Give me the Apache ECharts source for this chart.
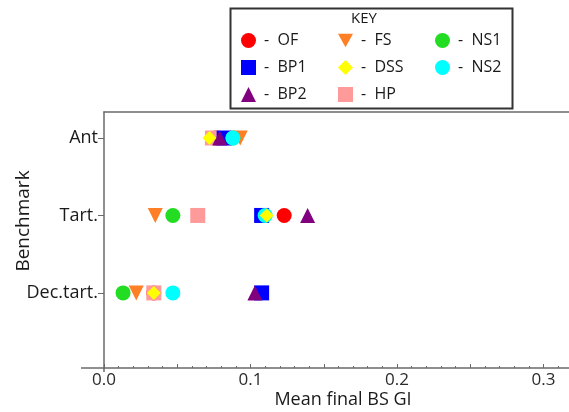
<!DOCTYPE html>
<html>
<head>
<meta charset="utf-8">
<script src="https://cdn.jsdelivr.net/npm/echarts@6/dist/echarts.min.js"></script>
<style>
  html, body { margin: 0; padding: 0; background: #fff; }
  #chart { width: 569px; height: 412px; }
</style>
</head>
<body>
<div id="chart"></div>
<script>
// Benchmarks, listed bottom-to-top (y = 1, 2, 3)
const benchmarks = ['Dec.tart.', 'Tart.', 'Ant'];
const xTickLabels = [0, 0.1, 0.2, 0.3];

// Mean final BS GI per method, in benchmark order [Dec.tart., Tart., Ant]
const OF  = [0.034, 0.123, 0.076];
const HP  = [0.034, 0.064, 0.074];
const BP1 = [0.1076, 0.1076, 0.082];
const BP2 = [0.103, 0.139, 0.079];
const FS  = [0.022, 0.035, 0.093];
const NS1 = [0.013, 0.047, 0.088];
const NS2 = [0.047, 0.110, 0.088];
const DSS = [0.034, 0.111, 0.072];

// Legend reading order (column-major)
const keyOrder = ['OF', 'BP1', 'BP2', 'FS', 'DSS', 'HP', 'NS1', 'NS2'];

const FONT = '"Open Sans", sans-serif';
const GRID = { left: 104, right: 0, top: 112, bottom: 44 };
const W = 569, H = 412;

const INV_TRI = 'path://M0,0 L10,0 L5,9 Z';

const methods = [
  { name: 'OF',  values: OF,  symbol: 'circle',   color: '#ff0000', size: 15 },
  { name: 'HP',  values: HP,  symbol: 'rect',     color: '#ff9a9a', size: 15 },
  { name: 'BP1', values: BP1, symbol: 'rect',     color: '#0000ff', size: 15 },
  { name: 'BP2', values: BP2, symbol: 'triangle', color: '#800080', size: 15 },
  { name: 'FS',  values: FS,  symbol: INV_TRI,    color: '#ff7f27', size: 15 },
  { name: 'NS1', values: NS1, symbol: 'circle',   color: '#22dd22', size: 15 },
  { name: 'NS2', values: NS2, symbol: 'circle',   color: '#00ffff', size: 15 },
  { name: 'DSS', values: DSS, symbol: 'diamond',  color: '#ffff00', size: 14 }
];

const series = methods.map(m => ({
  name: m.name,
  type: 'scatter',
  symbol: m.symbol,
  symbolSize: m.size,
  itemStyle: { color: m.color, opacity: 1 },
  data: m.values.map((v, i) => [v, i + 1])
}));

const xMin = 0, xMax = 0.3174;
const axisGray = '#6a6a6a';
const textColor = '#1a1a1a';

const option = {
  animation: false,
  backgroundColor: '#fff',
  grid: Object.assign({ outerBoundsMode: 'none', containLabel: false }, GRID),
  legend: {
    data: keyOrder,
    orient: 'vertical',
    left: 241,
    top: 31,
    height: 80,
    itemWidth: 15,
    itemHeight: 15,
    itemGap: 8,
    padding: 0,
    formatter: n => '-  ' + n,
    textStyle: { fontFamily: FONT, fontSize: 16, color: textColor, width: 66, lineHeight: 19, padding: [0, 0, 0, 3] },
    selectedMode: false
  },
  graphic: [
    { type: 'rect', left: 228, top: 6, shape: { width: 282, height: 100 },
      style: { fill: 'none', stroke: '#333', lineWidth: 2 }, z: 10 },
    { type: 'text', left: 351, top: 11,
      style: { text: 'KEY', font: '15px ' + FONT, fill: textColor }, z: 10 },
    // x axis line continues a little left of the y axis; y axis a little below
    { type: 'line', shape: { x1: 81, y1: H - GRID.bottom, x2: GRID.left, y2: H - GRID.bottom },
      style: { stroke: axisGray, lineWidth: 1.5 }, z: 5 },
    { type: 'line', shape: { x1: GRID.left, y1: H - GRID.bottom, x2: GRID.left, y2: H - GRID.bottom + 4 },
      style: { stroke: axisGray, lineWidth: 1.5 }, z: 5 }
  ],
  xAxis: [
    {
      type: 'value',
      min: xMin, max: xMax, interval: 0.05,
      name: 'Mean final BS GI',
      nameLocation: 'middle',
      nameGap: 23,
      nameMoveOverlap: false,
      nameTextStyle: { fontFamily: FONT, fontSize: 18, color: textColor, padding: [0, 0, 0, 13] },
      axisLine: { show: true, onZero: false, lineStyle: { color: axisGray, width: 1.5 } },
      axisTick: { show: true, inside: true, length: 4, lineStyle: { color: axisGray } },
      minorTick: { show: true, splitNumber: 5, length: 2, lineStyle: { color: axisGray } },
      splitLine: { show: false },
      axisLabel: {
        fontFamily: FONT, fontSize: 17, color: '#2a2a2a', margin: 4,
        customValues: xTickLabels,
        formatter: v => v.toFixed(1)
      }
    },
    {
      type: 'value', position: 'top',
      min: xMin, max: xMax,
      axisLine: { show: true, onZero: false, lineStyle: { color: axisGray, width: 1.5 } },
      axisTick: { show: false }, axisLabel: { show: false }, splitLine: { show: false }
    }
  ],
  yAxis: {
    type: 'value',
    min: 0.03, max: 3.336,
    name: 'Benchmark',
    nameLocation: 'middle',
    nameGap: 71,
    nameRotate: 90,
    nameMoveOverlap: false,
    nameTextStyle: { fontFamily: FONT, fontSize: 19, color: textColor, padding: [0, 0, 0, 38] },
    axisLine: { show: true, onZero: false, lineStyle: { color: axisGray, width: 1.5 } },
    axisTick: { show: true, length: 6, customValues: [1, 2, 3], lineStyle: { color: axisGray } },
    splitLine: { show: false },
    axisLabel: {
      fontFamily: FONT, fontSize: 18, color: textColor, margin: 6,
      customValues: [1, 2, 3],
      formatter: v => benchmarks[Math.round(v) - 1] || ''
    }
  },
  series: series
};

const chart = echarts.init(document.getElementById('chart'), null, { renderer: 'canvas' });
chart.setOption(option);
</script>
</body>
</html>
